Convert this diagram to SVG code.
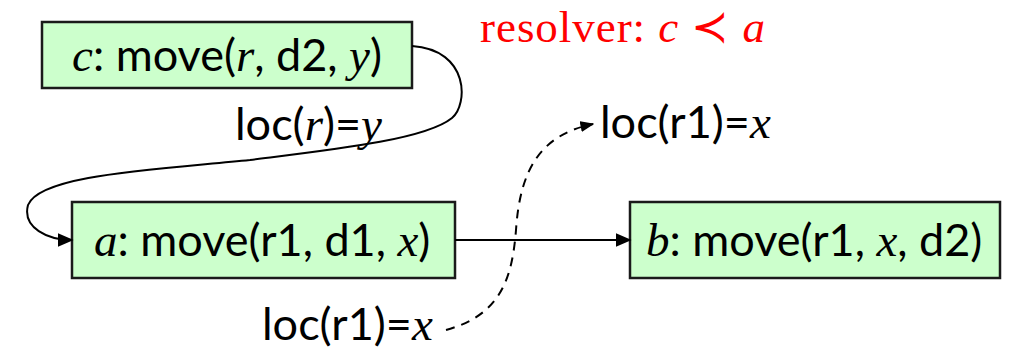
<svg xmlns="http://www.w3.org/2000/svg" width="1012" height="352" viewBox="0 0 1012 352">
  <style>
    .box { fill: #ccffcc; stroke: #1a1a1a; stroke-width: 2.5; }
    .lbl { font-family: Lato, "Open Sans", "Liberation Sans", sans-serif; font-size: 45px; fill: #000; }
    .it { font-family: "Liberation Serif", serif; font-style: italic; font-size: 47px; }
    .edge { fill: none; stroke: #000; stroke-width: 2; }
    .dash { stroke-dasharray: 9 7; }
    .red { font-family: "Liberation Serif", serif; font-size: 45px; fill: #ff0000; }
  </style>
  <defs>
    <marker id="arr" viewBox="0 0 10 10" refX="9" refY="5" markerWidth="14" markerHeight="11" orient="auto" markerUnits="userSpaceOnUse" preserveAspectRatio="none">
      <path d="M0,0 L10,5 L0,10 z" fill="#000"/>
    </marker>
    <marker id="arrL" viewBox="0 0 10 10" refX="9" refY="5" markerWidth="16" markerHeight="14" orient="auto" markerUnits="userSpaceOnUse" preserveAspectRatio="none">
      <path d="M0,0 L10,5 L0,10 z" fill="#000"/>
    </marker>
  </defs>

  <text class="red" x="480" y="42" textLength="285">resolver: <tspan font-style="italic">c</tspan> ≺ <tspan font-style="italic">a</tspan></text>

  <g id="node-c">
    <rect class="box" x="42" y="22" width="370" height="66"/>
    <text class="lbl" x="72" y="71"><tspan class="it">c</tspan>: move(<tspan class="it">r</tspan>, d2, <tspan class="it">y</tspan>)</text>
  </g>

  <g id="node-a">
    <rect class="box" x="72" y="202" width="383" height="76"/>
    <text class="lbl" x="94" y="256"><tspan class="it">a</tspan>: move(r1, d1, <tspan class="it">x</tspan>)</text>
  </g>

  <g id="node-b">
    <rect class="box" x="630" y="202" width="370" height="76"/>
    <text class="lbl" x="646" y="256"><tspan class="it">b</tspan>: move(r1, <tspan class="it">x</tspan>, d2)</text>
  </g>

  <g id="labels">
    <text class="lbl" x="235" y="140">loc(<tspan class="it">r</tspan>)=<tspan class="it">y</tspan></text>
    <text class="lbl" x="600" y="138">loc(r1)=<tspan class="it">x</tspan></text>
    <text class="lbl" x="262" y="340">loc(r1)=<tspan class="it">x</tspan></text>
  </g>

  <g id="connectors">
    <path class="edge" marker-end="url(#arrL)" d="M412,46 C470,50 468,105 452,118 C425,140 330,150 250,160 C150,170 40,175 28,205 C22,228 48,240 72,240"/>
    <path class="edge" marker-end="url(#arrL)" d="M455,240 L630,240"/>
    <path class="edge dash" marker-end="url(#arr)" d="M446,330 C500,315 512,280 516,230 C520,170 540,135 593,124"/>
  </g>
</svg>
